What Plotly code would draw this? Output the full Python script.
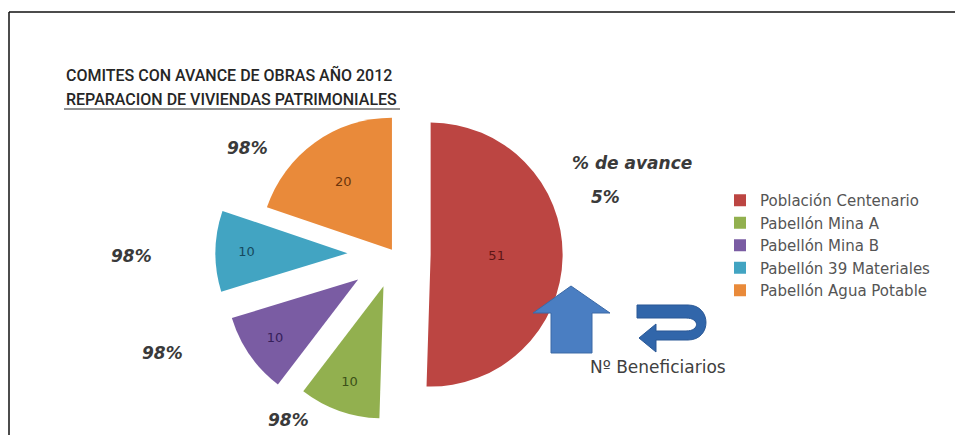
import plotly.graph_objects as go

# ---- data ----
categorias = ["Población Centenario", "Pabellón Mina A", "Pabellón Mina B",
              "Pabellón 39 Materiales", "Pabellón Agua Potable"]
beneficiarios = [51, 10, 10, 10, 20]
avance = [5, 98, 98, 98, 98]

colores = ["#BC4542", "#92B04F", "#7A5CA3", "#42A4C2", "#E98A3A"]
colores_texto = ["#5E1615", "#3C5018", "#36205A", "#174A5E", "#6B350C"]
pulls = [0.27, 0.26, 0.34, 0.36, 0.04]

# page body has an 8px margin; figure is sized to fill the rest of the window
OFF = 8
W, H = 963 - OFF, 435 - OFF


def px(x):
    return (x - OFF) / W


def py(y):
    return 1 - (y - OFF) / H


def clamp(v):
    return min(1.0, max(0.0, v))


fig = go.Figure()

cx, cy, r = 395, 254, 132
box = 2 * r * (1 + max(pulls))
fig.add_trace(go.Pie(
    labels=categorias,
    values=beneficiarios,
    sort=False,
    direction="clockwise",
    rotation=0,
    pull=pulls,
    marker=dict(colors=colores, line=dict(width=0)),
    textinfo="value",
    textposition="inside",
    insidetextorientation="horizontal",
    insidetextfont=dict(family="DejaVu Sans", size=13, color=colores_texto),
    domain=dict(x=[clamp(px(cx - box / 2)), clamp(px(cx + box / 2))],
                y=[clamp(py(cy + box / 2)), clamp(py(cy - box / 2))]),
    hoverinfo="label+value",
))

annotations = []
tfont = dict(family="Roboto", size=16, color="#262626", weight=500)
annotations.append(dict(x=px(64), y=py(75), xref="paper", yref="paper",
                        xanchor="left", yanchor="middle", showarrow=False,
                        text="COMITES CON AVANCE DE OBRAS AÑO 2012", font=tfont))
annotations.append(dict(x=px(64), y=py(99), xref="paper", yref="paper",
                        xanchor="left", yanchor="middle", showarrow=False,
                        text="REPARACION DE VIVIENDAS PATRIMONIALES", font=tfont))

# % de avance labels
label_pos = [(605, 197), (288, 420), (162, 353), (131, 256), (247, 148)]
pfont = dict(family="DejaVu Sans", size=17, color="#3A3A3A")
for (x, y), v in zip(label_pos, avance):
    annotations.append(dict(x=px(x), y=py(y), xref="paper", yref="paper",
                            xanchor="center", yanchor="middle", showarrow=False,
                            text=f"<b><i>{v}%</i></b>", font=pfont))
annotations.append(dict(x=px(632), y=py(163), xref="paper", yref="paper",
                        xanchor="center", yanchor="middle", showarrow=False,
                        text="<b><i>% de avance</i></b>", font=pfont))
annotations.append(dict(x=px(658), y=py(367), xref="paper", yref="paper",
                        xanchor="center", yanchor="middle", showarrow=False,
                        text="Nº Beneficiarios",
                        font=dict(family="DejaVu Sans", size=17, color="#404040")))


def to_path(cmds):
    out = []
    for c in cmds:
        if isinstance(c, str):
            out.append(c)
        else:
            out.append(f"{px(c[0]):.5f},{py(c[1]):.5f}")
    return " ".join(out)


shapes = []
# frame
shapes.append(dict(type="line", xref="paper", yref="paper", x0=px(9), x1=1, y0=py(12), y1=py(12),
                   line=dict(color="#111111", width=1.5)))
shapes.append(dict(type="line", xref="paper", yref="paper", x0=px(9), x1=px(9), y0=py(12), y1=0,
                   line=dict(color="#111111", width=1.5)))
# underline second title line
shapes.append(dict(type="line", xref="paper", yref="paper", x0=px(64), x1=px(400), y0=py(109), y1=py(109),
                   line=dict(color="#262626", width=1.2)))
# up block arrow
up = to_path(["M", (571, 286), "L", (610, 313), "L", (592, 313), "L", (592, 353), "L", (551, 353),
              "L", (551, 313), "L", (533, 313), "Z"])
shapes.append(dict(type="path", xref="paper", yref="paper", path=up,
                   fillcolor="#4A7EC2", line=dict(color="#3B69A6", width=1)))
# U-turn arrow
ut = to_path(["M", (637, 305), "L", (688, 305), "C", (712, 305), (712, 340), (688, 340),
              "L", (656, 340), "L", (656, 352), "L", (639, 338), "L", (656, 324), "L", (656, 331),
              "L", (686, 331), "C", (700, 331), (700, 318), (686, 318), "L", (637, 318), "Z"])
shapes.append(dict(type="path", xref="paper", yref="paper", path=ut,
                   fillcolor="#3166AA", line=dict(color="#2A5896", width=1)))

fig.update_layout(
    width=W, height=H,
    margin=dict(l=0, r=0, t=0, b=0),
    paper_bgcolor="white",
    plot_bgcolor="white",
    showlegend=True,
    legend=dict(x=px(720), y=py(184), xanchor="left", yanchor="top",
                font=dict(family="DejaVu Sans", size=15, color="#555555"),
                itemwidth=30, tracegroupgap=0, bgcolor="rgba(0,0,0,0)"),
    annotations=annotations,
    shapes=shapes,
)

fig.write_html("out.html")
